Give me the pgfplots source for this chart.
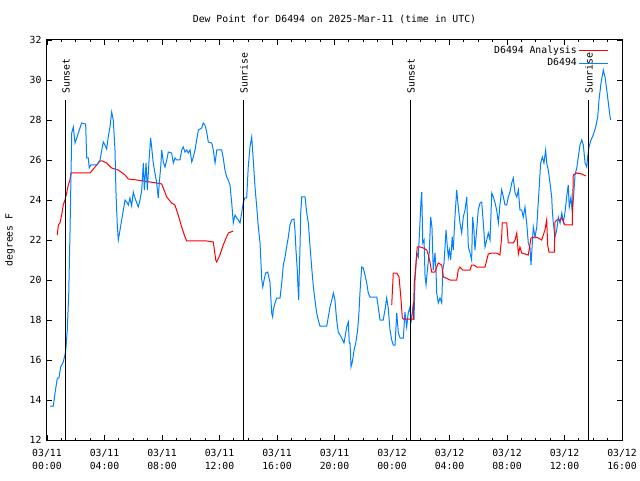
\documentclass[border=0pt]{standalone}
\usepackage{fontspec}
\setmainfont{DejaVu Sans Mono}
\usepackage{pgfplots}
\pgfplotsset{compat=1.18}
\definecolor{dpblue}{RGB}{0,128,255}
\definecolor{dpred}{RGB}{255,0,0}
\begin{document}
\fontsize{9.8}{12}\selectfont
\begin{tikzpicture}
\path[use as bounding box] (-47pt,-40pt) rectangle (593pt,440pt);
\begin{axis}[
  at={(0pt,0pt)}, anchor=south west,
  scale only axis, width=575pt, height=400pt,
  xmin=0, xmax=40, ymin=12, ymax=32,
  xtick={0,4,...,40},
  xticklabels={{03/11\\[1pt]00:00},{03/11\\[1pt]04:00},{03/11\\[1pt]08:00},{03/11\\[1pt]12:00},{03/11\\[1pt]16:00},{03/11\\[1pt]20:00},{03/12\\[1pt]00:00},{03/12\\[1pt]04:00},{03/12\\[1pt]08:00},{03/12\\[1pt]12:00},{03/12\\[1pt]16:00}},
  minor x tick num=3,
  ytick={12,14,...,32},
  tick align=inside,
  xtick pos=both, ytick pos=both,
  major tick length=5pt, minor tick length=2.5pt,
  every tick/.style={black, line width=0.8pt},
  axis line style={line width=1pt},
  /pgf/number format/assume math mode=true,
  tick label style={font=\fontsize{9.8}{12}\selectfont},
  xticklabel style={align=center, yshift=-6pt},
  yticklabel style={xshift=-2pt},
  ylabel={degrees F},
  ylabel style={at={(axis description cs:-0.0643,0.5)}, anchor=center, font=\fontsize{9.8}{12}\selectfont},
  title={Dew Point for D6494 on 2025-Mar-11 (time in UTC)},
  title style={at={(axis description cs:0.5,1)}, anchor=base, yshift=11pt, font=\fontsize{9.8}{12}\selectfont},
  legend style={at={(axis description cs:1,1)}, anchor=north east, xshift=-10pt, yshift=-2pt, draw=none, fill=none, font=\fontsize{9.8}{12}\selectfont, legend cell align=right, row sep=-0.5pt},
  legend plot pos=right,
  legend image code/.code={\draw[#1] (0pt,0pt) -- (29pt,0pt);},
  every axis plot/.append style={line width=1pt},
  clip=true,
]
\addplot[dpred, sharp plot] coordinates {
(0.72,22.25) (0.79,22.75) (0.90,22.85) (1.02,23.25) (1.13,23.75) (1.25,24.00) (1.37,24.35) (1.48,24.75) (1.60,25.00) (1.67,25.35)
(2.99,25.35) (3.34,25.65) (3.69,25.95) (3.85,25.95) (4.15,25.85) (4.50,25.60) (4.96,25.50) (5.43,25.25) (5.66,25.05) (6.24,25.00)
(7.17,24.90) (7.63,24.85) (7.98,24.80) (8.33,24.15) (8.67,23.85) (8.90,23.75) (9.13,23.25) (9.37,22.65) (9.60,22.15) (9.72,21.95)
(10.30,21.95) (11.11,21.95) (11.57,21.90) (11.74,21.00) (11.81,20.90) (12.03,21.25) (12.26,21.75) (12.61,22.35) (12.96,22.45)
};
\addlegendentry{D6494 Analysis}
\addplot[dpblue, sharp plot] coordinates {
(0.21,13.70) (0.44,13.70) (0.56,14.35) (0.72,15.10) (0.83,15.10) (0.95,15.65) (1.13,15.90) (1.25,16.25) (1.32,16.60) (1.41,17.50)
(1.51,19.25) (1.60,22.35) (1.72,27.35) (1.83,27.65) (1.95,26.85) (2.07,27.10) (2.18,27.35) (2.41,27.85) (2.69,27.80) (2.76,26.10)
(2.87,26.10) (2.94,25.60) (3.04,25.75) (3.46,25.75) (3.69,26.00) (3.81,26.50) (3.92,26.90) (4.03,26.75) (4.15,26.55) (4.26,27.15)
(4.38,27.65) (4.50,28.40) (4.61,28.00) (4.73,26.50) (4.80,24.35) (4.89,22.75) (4.96,22.00) (5.08,22.50) (5.31,23.50) (5.43,24.00)
(5.54,23.90) (5.66,23.75) (5.77,24.10) (5.89,23.70) (6.00,24.40) (6.12,24.10) (6.35,23.65) (6.47,24.00) (6.59,24.50) (6.70,25.85)
(6.77,24.50) (6.89,25.85) (6.98,24.50) (7.10,26.00) (7.21,27.10) (7.28,26.65) (7.39,25.85) (7.51,25.35) (7.63,24.85) (7.74,24.10)
(7.81,24.85) (7.91,25.65) (7.98,26.50) (8.09,25.90) (8.21,25.65) (8.33,26.00) (8.44,26.40) (8.67,26.35) (8.79,25.85) (8.90,26.10)
(9.02,26.00) (9.25,26.00) (9.37,26.50) (9.48,26.65) (9.60,26.40) (9.72,26.50) (9.83,26.35) (9.95,26.50) (10.07,25.90) (10.18,26.15)
(10.30,26.50) (10.41,27.00) (10.53,27.50) (10.76,27.60) (10.87,27.85) (10.99,27.75) (11.11,27.40) (11.22,26.90) (11.46,26.85) (11.57,26.50)
(11.69,25.85) (11.74,26.10) (11.81,26.50) (12.15,26.50) (12.26,26.10) (12.38,25.50) (12.50,25.15) (12.61,25.00) (12.73,24.75) (12.85,23.85)
(12.96,22.85) (13.08,23.25) (13.20,23.10) (13.31,23.00) (13.43,22.85) (13.54,23.35) (13.66,23.90) (13.77,24.10) (13.89,24.10) (14.00,25.65)
(14.12,26.65) (14.24,27.15) (14.35,26.00) (14.47,24.65) (14.59,23.65) (14.70,22.65) (14.82,21.85) (14.94,20.00) (15.01,19.65) (15.10,20.00)
(15.21,20.35) (15.35,20.40) (15.51,19.90) (15.63,18.35) (15.70,18.15) (15.74,18.50) (15.86,18.85) (15.98,19.10) (16.21,19.10) (16.33,19.85)
(16.44,20.75) (16.56,21.15) (16.67,21.65) (16.79,22.15) (16.90,22.75) (17.02,23.00) (17.18,23.05) (17.25,22.50) (17.32,21.50) (17.41,20.50)
(17.46,19.65) (17.51,19.00) (17.55,20.35) (17.60,21.65) (17.65,23.35) (17.72,24.15) (17.95,24.15) (18.07,23.35) (18.18,22.85) (18.30,21.65)
(18.41,20.65) (18.53,19.65) (18.64,19.00) (18.76,18.35) (18.87,18.00) (18.99,17.70) (19.46,17.70) (19.57,18.15) (19.69,18.65) (19.81,19.00)
(19.92,19.35) (20.03,19.00) (20.15,18.00) (20.26,17.40) (20.38,17.25) (20.50,17.10) (20.66,16.85) (20.85,17.65) (20.96,17.90) (21.03,16.85)
(21.08,16.85) (21.15,15.65) (21.24,15.90) (21.36,16.50) (21.48,16.85) (21.61,17.50) (21.70,18.35) (21.77,19.35) (21.89,20.65) (22.00,20.60)
(22.12,20.25) (22.24,19.85) (22.35,19.35) (22.47,19.15) (22.94,19.15) (23.05,18.60) (23.17,18.00) (23.39,18.00) (23.51,18.50) (23.63,19.10)
(23.74,18.60) (23.86,17.50) (23.98,17.00) (24.09,16.75) (24.21,16.75) (24.33,18.35) (24.44,17.35) (24.56,17.10) (24.79,17.10) (24.90,18.40)
(25.02,17.65) (25.13,18.35) (25.25,18.65) (25.32,17.85) (25.44,18.60) (25.53,18.00) (25.60,20.00) (25.72,21.35) (25.83,21.15) (26.02,24.00)
(26.07,24.40) (26.14,21.85) (26.23,22.00) (26.30,20.15) (26.37,19.75) (26.46,20.50) (26.59,21.35) (26.69,23.15) (26.78,22.65) (26.87,20.50)
(26.99,21.35) (27.06,20.50) (27.11,19.35) (27.22,18.85) (27.34,19.10) (27.46,18.85) (27.53,20.50) (27.62,20.85) (27.76,22.50) (27.85,21.65)
(27.92,21.15) (27.99,21.50) (28.08,21.00) (28.19,22.15) (28.26,21.50) (28.38,23.15) (28.50,24.50) (28.61,23.65) (28.73,22.85) (28.85,22.35)
(28.96,23.15) (29.08,23.50) (29.20,24.15) (29.31,21.65) (29.43,21.35) (29.54,21.00) (29.61,23.15) (29.70,22.50) (29.77,21.50) (29.89,22.50)
(30.00,23.50) (30.12,23.85) (30.24,23.90) (30.35,22.85) (30.47,21.65) (30.59,22.00) (30.70,22.35) (30.82,22.00) (30.94,24.35) (31.05,24.15)
(31.17,23.85) (31.28,23.50) (31.40,22.85) (31.51,23.75) (31.63,24.50) (31.75,24.15) (31.86,23.75) (31.98,23.75) (32.09,24.15) (32.21,24.40)
(32.33,24.85) (32.44,25.10) (32.56,24.35) (32.68,24.15) (32.79,24.50) (32.90,23.50) (33.02,23.50) (33.13,23.15) (33.25,23.65) (33.37,22.85)
(33.48,21.85) (33.60,21.60) (33.67,20.75) (33.76,21.85) (33.83,22.65) (33.95,22.15) (34.07,22.65) (34.14,23.50) (34.23,24.50) (34.34,25.85)
(34.46,26.15) (34.57,25.85) (34.69,26.50) (34.76,25.85) (34.87,25.50) (34.99,24.85) (35.11,24.15) (35.15,23.50) (35.22,22.85) (35.34,22.15)
(35.46,22.50) (35.57,23.15) (35.69,22.85) (35.81,23.35) (35.92,22.90) (36.03,23.35) (36.15,24.15) (36.26,24.75) (36.33,23.65) (36.45,24.15)
(36.54,23.35) (36.64,24.25) (36.73,25.25) (36.85,25.60) (36.96,26.15) (37.08,26.75) (37.20,27.00) (37.31,26.75) (37.43,25.85) (37.55,25.65)
(37.61,26.15) (37.70,26.65) (37.84,27.00) (38.00,27.25) (38.17,27.65) (38.31,28.15) (38.40,29.00) (38.54,29.85) (38.70,30.50) (38.82,30.15)
(38.94,29.50) (39.05,28.85) (39.17,28.15) (39.22,28.00)
};
\addlegendentry{D6494}
\addplot[dpred, sharp plot, forget plot] coordinates {
(23.98,18.75) (24.09,20.35) (24.33,20.35) (24.49,20.15) (24.63,19.00) (24.72,18.10) (24.79,18.05) (25.48,18.05) (25.55,19.85) (25.65,20.65)
(25.76,21.65) (25.95,21.65) (26.18,21.60) (26.42,21.50) (26.53,21.25) (26.64,20.90) (26.76,20.40) (26.99,20.40) (27.11,20.65) (27.22,20.85)
(27.46,20.75) (27.57,20.15) (27.76,20.10) (28.03,20.00) (28.50,20.00) (28.61,20.50) (28.73,20.65) (28.92,20.50) (29.43,20.50) (29.54,20.75)
(29.70,20.75) (29.89,20.65) (30.47,20.65) (30.70,21.30) (30.94,21.35) (31.28,21.35) (31.51,21.25) (31.63,22.15) (31.67,22.85) (31.98,22.85)
(32.09,21.85) (32.44,21.85) (32.56,22.00) (32.68,22.35) (32.79,21.30) (32.90,21.65) (33.02,21.35) (33.48,21.25) (33.67,22.10) (33.95,22.15)
(34.18,22.10) (34.41,22.00) (34.64,22.50) (34.76,23.00) (34.83,21.75) (34.92,21.40) (35.29,21.40) (35.34,22.90) (35.46,23.00) (35.69,23.00)
(35.81,23.10) (36.03,22.75) (36.54,22.75) (36.61,25.25) (36.85,25.35) (37.20,25.30) (37.48,25.20)
};
\addplot[black, forget plot] coordinates {(1.32,12) (1.32,29)};
\addplot[black, forget plot] coordinates {(13.70,12) (13.70,29)};
\addplot[black, forget plot] coordinates {(25.32,12) (25.32,29)};
\addplot[black, forget plot] coordinates {(37.70,12) (37.70,29)};
\node[rotate=90, anchor=west, inner sep=0pt, font=\fontsize{9.8}{12}\selectfont] at (axis cs:1.32,29.3) {Sunset};
\node[rotate=90, anchor=west, inner sep=0pt, font=\fontsize{9.8}{12}\selectfont] at (axis cs:13.70,29.3) {Sunrise};
\node[rotate=90, anchor=west, inner sep=0pt, font=\fontsize{9.8}{12}\selectfont] at (axis cs:25.32,29.3) {Sunset};
\node[rotate=90, anchor=west, inner sep=0pt, font=\fontsize{9.8}{12}\selectfont] at (axis cs:37.70,29.3) {Sunrise};
\end{axis}
\end{tikzpicture}
\end{document}
